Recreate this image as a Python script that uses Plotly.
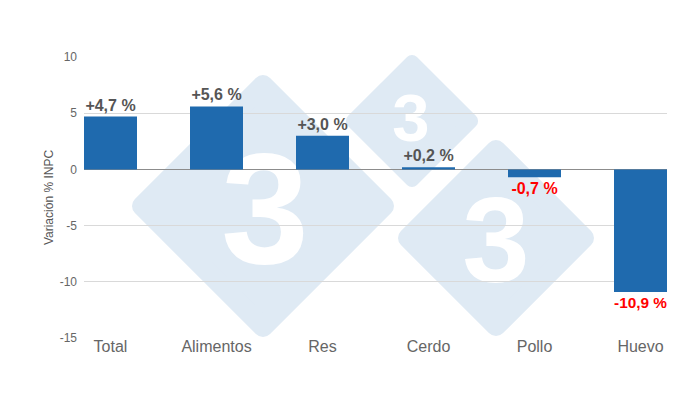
import plotly.graph_objects as go
import base64

categories = ["Total", "Alimentos", "Res", "Cerdo", "Pollo", "Huevo"]
values = [4.7, 5.6, 3.0, 0.2, -0.7, -10.9]
y_ticks = [-15, -10, -5, 0, 5, 10]

labels = [("%+.1f %%" % v).replace(".", ",") for v in values]
label_colors = ["#555555" if v >= 0 else "#ff0000" for v in values]

# decorative watermark (background), drawn as an SVG image
def diamond(cx, cy, r, rr=10):
    r2 = r - rr * 0.7
    pts = f"{cx},{cy-r2} {cx+r2},{cy} {cx},{cy+r2} {cx-r2},{cy}"
    return (f'<polygon points="{pts}" fill="#dfeaf4" stroke="#dfeaf4" '
            f'stroke-width="{2*rr}" stroke-linejoin="round"/>')

def three(cx, base, size):
    return (f'<text x="{cx}" y="{base}" text-anchor="middle" font-family="Liberation Sans, Arial" '
            f'font-weight="bold" font-size="{size}" fill="#ffffff">3</text>')

svg = ('<svg xmlns="http://www.w3.org/2000/svg" width="700" height="400" viewBox="0 0 700 400">'
       + diamond(263, 206, 128) + diamond(412, 121, 64, 7) + diamond(496, 238, 95)
       + three(265, 263, 158) + three(411, 141, 67) + three(496, 282, 121)
       + '</svg>')
src = "data:image/svg+xml;base64," + base64.b64encode(svg.encode()).decode()

L, R, T, B = 84, 33, 57, 62
W, H = 700, 400
pw, ph = W - L - R, H - T - B

fig = go.Figure()
fig.add_trace(go.Bar(
    x=categories, y=values,
    marker=dict(color="#1f6aae", line=dict(width=0)),
    text=labels, textposition="outside",
    textfont=dict(family="Liberation Sans, Arial", size=16, color=label_colors, weight="bold"),
    cliponaxis=False, width=0.5,
))

fig.update_layout(
    width=W, height=H,
    margin=dict(l=L, r=R, t=T, b=B),
    paper_bgcolor="white", plot_bgcolor="white",
    showlegend=False,
    font=dict(family="Liberation Sans, Arial", color="#666666"),
    images=[dict(source=src, xref="paper", yref="paper",
                 x=-L / pw, y=1 + T / ph, sizex=W / pw, sizey=H / ph,
                 xanchor="left", yanchor="top", sizing="stretch", layer="below")],
)
fig.update_xaxes(
    range=[-0.25, 5.25], showgrid=False, ticks="",
    tickfont=dict(size=16, color="#666666"),
    showline=False, ticklabelstandoff=-3,
)
fig.update_yaxes(
    range=[-15, 10], tickvals=y_ticks, ticktext=[str(t) for t in y_ticks],
    showgrid=True, gridcolor="#d9d9d9", gridwidth=1,
    zeroline=True, zerolinecolor="#8c8c8c", zerolinewidth=1,
    tickfont=dict(size=12, color="#666666"), ticks="", ticklabelstandoff=6,
    title=dict(text="Variación % INPC", font=dict(size=12, color="#555555"), standoff=3),
)

fig.write_html("out.html")
